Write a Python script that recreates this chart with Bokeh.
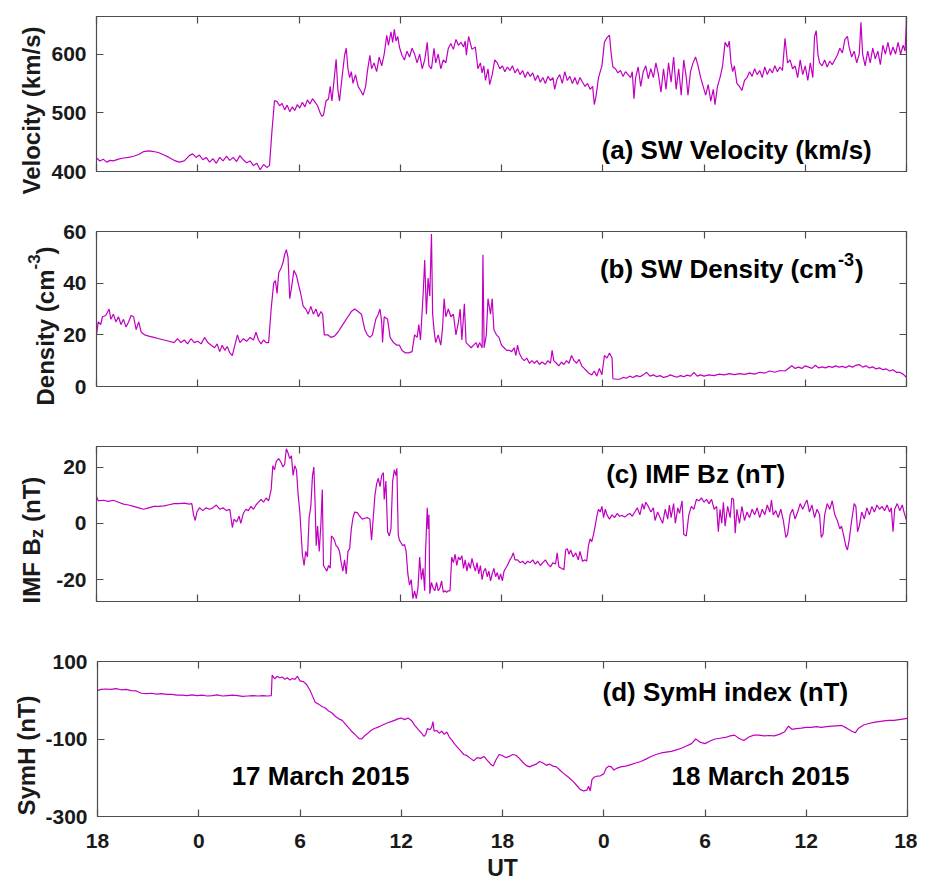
from bokeh.plotting import figure
from bokeh.layouts import column, row
from bokeh.models import Label, LinearAxis, FixedTicker, Range1d
from bokeh.embed import file_html
from bokeh.resources import INLINE

FONT = "Liberation Sans"
LINE_COLOR = "#C000C0"
AX_COLOR = "#4D4D4D"
TXT_COLOR = "#1A1A1A"

# x axis: hours since 16 March 2015 18 UT
x_ticks = [0, 6, 12, 18, 24, 30, 36, 42, 48]
x_tick_labels = ["18", "0", "6", "12", "18", "0", "6", "12", "18"]

# y ticks and their labels (plain hyphen, as in the original)
vel_ticks, vel_tick_labels = [400, 500, 600], ["400", "500", "600"]
den_ticks, den_tick_labels = [0, 20, 40, 60], ["0", "20", "40", "60"]
bz_ticks, bz_tick_labels = [-20, 0, 20], ["-20", "0", "20"]
sym_ticks, sym_tick_labels = [-300, -100, 100], ["-300", "-100", "100"]

# ---------------- (a) solar wind velocity (km/s) ----------------
vel_t = [0.0, 0.2, 0.4, 0.6, 0.8, 1.0, 1.3, 1.6, 1.9, 2.2, 2.5, 2.8, 3.1, 3.4, 3.7, 4.0, 4.3, 4.6, 4.9, 5.2,
         5.5, 5.7, 5.9, 6.1, 6.3, 6.5, 6.7, 6.9, 7.1, 7.3, 7.5, 7.7, 7.9, 8.1, 8.3, 8.5, 8.7, 8.9, 9.1, 9.3,
         9.5, 9.7, 9.9, 10.1, 10.25, 10.4, 10.55, 10.7, 10.85, 11.0, 11.15, 11.3, 11.45, 11.6, 11.75, 11.9,
         12.05, 12.2, 12.35, 12.5, 12.65, 12.8, 12.95, 13.1, 13.25, 13.35, 13.45, 13.6, 13.75, 13.85, 13.95,
         14.05, 14.2, 14.3, 14.4, 14.55, 14.7, 14.8, 14.9, 15.0, 15.1, 15.2, 15.35, 15.5, 15.65, 15.8, 15.95,
         16.05, 16.2, 16.3, 16.45, 16.6, 16.75, 16.9, 17.05, 17.2, 17.3, 17.45, 17.55, 17.65, 17.75, 17.85,
         17.95, 18.1, 18.25, 18.4, 18.55, 18.7, 18.85, 19.0, 19.15, 19.3, 19.45, 19.6, 19.7, 19.85, 20.0,
         20.1, 20.25, 20.4, 20.55, 20.7, 20.85, 21.0, 21.15, 21.3, 21.45, 21.6, 21.75, 21.85, 21.92, 22.05,
         22.25, 22.45, 22.6, 22.75, 22.85, 22.95, 23.05, 23.2, 23.3, 23.45, 23.6, 23.75, 23.9, 24.05, 24.2,
         24.35, 24.5, 24.65, 24.8, 24.95, 25.1, 25.25, 25.4, 25.55, 25.7, 25.85, 26.0, 26.15, 26.3, 26.45,
         26.6, 26.75, 26.9, 27.05, 27.15, 27.3, 27.45, 27.6, 27.75, 27.9, 28.05, 28.2, 28.35, 28.5, 28.65,
         28.8, 28.95, 29.1, 29.25, 29.4, 29.5, 29.6, 29.75, 29.85, 29.95, 30.1, 30.25, 30.4, 30.5, 30.6,
         30.75, 30.9, 31.05, 31.2, 31.35, 31.5, 31.65, 31.75, 31.85, 31.95, 32.1, 32.25, 32.4, 32.55, 32.7,
         32.85, 33.0, 33.15, 33.3, 33.45, 33.6, 33.75, 33.9, 34.05, 34.2, 34.35, 34.5, 34.65, 34.8, 34.95,
         35.05, 35.2, 35.35, 35.5, 35.65, 35.8, 35.95, 36.1, 36.25, 36.4, 36.55, 36.65, 36.8, 36.95, 37.1,
         37.25, 37.4, 37.5, 37.6, 37.7, 37.8, 37.95, 38.1, 38.25, 38.4, 38.55, 38.7, 38.85, 39.0, 39.15,
         39.3, 39.45, 39.6, 39.75, 39.9, 40.05, 40.2, 40.35, 40.5, 40.65, 40.8, 40.95, 41.1, 41.25, 41.4,
         41.55, 41.7, 41.85, 42.0, 42.15, 42.3, 42.45, 42.55, 42.65, 42.75, 42.85, 43.0, 43.15, 43.3, 43.45,
         43.6, 43.75, 43.9, 44.05, 44.2, 44.35, 44.5, 44.6, 44.75, 44.9, 45.05, 45.2, 45.3, 45.4, 45.55,
         45.7, 45.85, 46.0, 46.15, 46.3, 46.45, 46.6, 46.75, 46.9, 47.05, 47.2, 47.35, 47.5, 47.65, 47.8,
         47.92, 48.0]
vel = [423, 418, 421, 416, 419, 418, 421, 423, 424, 426, 429, 434, 435, 434, 432, 428, 424, 419, 416, 418,
       427, 430, 424, 428, 420, 424, 416, 422, 414, 424, 418, 426, 419, 424, 417, 427, 420, 415, 418, 410,
       414, 403, 412, 407, 410, 470, 521, 519, 512, 516, 505, 513, 502, 510, 504, 514,
       508, 518, 510, 522, 515, 524, 518, 512, 500, 494, 496, 520, 524, 545, 520,
       548, 591, 540, 520, 560, 598, 610, 575, 560, 570, 550, 565, 545, 538, 530, 545,
       570, 598, 575, 585, 570, 595, 580, 600, 632, 615, 638, 620, 642, 622, 630,
       612, 598, 590, 605, 595, 610, 600, 585, 600, 575, 590, 620, 580, 575, 610,
       585, 600, 575, 590, 585, 610, 618, 608, 625, 615, 620, 612, 622, 598, 630,
       608, 612, 575, 585, 568, 580, 555, 575, 548, 565, 590, 585, 575, 580, 570,
       578, 572, 580, 568, 575, 565, 572, 560, 570, 562, 568, 555, 564, 552, 560,
       550, 562, 555, 560, 540, 558, 565, 550, 570, 555, 562, 550, 560, 548, 560,
       552, 545, 550, 540, 545, 514, 528, 560, 570, 580, 620, 628, 632, 600, 578,
       575, 568, 572, 562, 570, 565, 560, 570, 524, 560, 578, 545, 570, 580, 558,
       575, 560, 585, 565, 535, 575, 540, 585, 552, 595, 540, 575, 530, 590, 560,
       530, 570, 585, 595, 580, 560, 545, 530, 548, 520, 540, 514, 545, 560, 580,
       620, 612, 622, 585, 570, 580, 550, 545, 538, 555, 560, 570, 562, 575, 565,
       572, 560, 578, 565, 575, 568, 580, 570, 578, 572, 627, 585, 590, 575, 580,
       560, 590, 565, 580, 555, 585, 560, 630, 640, 600, 585, 580, 590, 578, 588,
       582, 590, 598, 610, 602, 625, 630, 612, 595, 605, 585, 600, 654, 600, 580,
       605, 585, 610, 592, 605, 582, 615, 600, 620, 598, 612, 600, 620, 600, 615,
       605, 664]

# ---------------- (b) solar wind density (cm^-3) ----------------
den_t = [0.0, 0.1, 0.25, 0.35, 0.55, 0.75, 0.85, 1.0, 1.15, 1.3, 1.45, 1.6, 1.75, 1.9, 2.05, 2.2, 2.35, 2.5,
         2.65, 2.85, 3.1, 3.4, 3.7, 4.0, 4.3, 4.6, 4.8, 5.0, 5.2, 5.4, 5.6, 5.8, 6.0, 6.2, 6.4, 6.6, 6.8, 7.0,
         7.15, 7.3, 7.45, 7.6, 7.75, 7.9, 8.05, 8.2, 8.35, 8.5, 8.7, 8.9, 9.1, 9.3, 9.45, 9.6, 9.75, 9.9,
         10.05, 10.2, 10.35, 10.5, 10.6, 10.7, 10.8, 10.95, 11.05, 11.15, 11.25, 11.35, 11.45, 11.55, 11.7,
         11.85, 11.95, 12.1, 12.25, 12.4, 12.55, 12.7, 12.85, 13.0, 13.15, 13.3, 13.4, 13.5, 13.7, 13.9,
         14.1, 14.3, 14.5, 14.7, 14.9, 15.1, 15.3, 15.5, 15.7, 15.8, 15.9, 16.05, 16.2, 16.35, 16.55, 16.7,
         16.8, 16.9, 16.95, 17.05, 17.25, 17.4, 17.6, 17.8, 17.95, 18.1, 18.3, 18.5, 18.7, 18.85, 19.0, 19.1,
         19.2, 19.35, 19.45, 19.55, 19.65, 19.75, 19.85, 19.92, 20.0, 20.1, 20.25, 20.4, 20.5, 20.6, 20.7,
         20.85, 21.0, 21.15, 21.3, 21.45, 21.55, 21.65, 21.8, 21.9, 22.05, 22.2, 22.35, 22.5, 22.6, 22.7,
         22.85, 22.9, 22.97, 23.1, 23.2, 23.35, 23.45, 23.55, 23.7, 23.85, 24.0, 24.15, 24.3, 24.45, 24.6,
         24.75, 24.85, 24.95, 25.05, 25.2, 25.35, 25.5, 25.65, 25.8, 25.95, 26.1, 26.25, 26.4, 26.6, 26.75,
         26.9, 27.0, 27.1, 27.25, 27.4, 27.55, 27.7, 27.85, 28.0, 28.15, 28.3, 28.45, 28.6, 28.75, 28.9,
         29.05, 29.2, 29.35, 29.5, 29.65, 29.8, 29.95, 30.1, 30.25, 30.4, 30.55, 30.6, 30.8, 31.0, 31.2,
         31.4, 31.6, 31.8, 32.0, 32.2, 32.4, 32.6, 32.8, 33.0, 33.2, 33.4, 33.6, 33.8, 34.0, 34.2, 34.4,
         34.6, 34.8, 35.0, 35.2, 35.4, 35.6, 35.8, 36.0, 36.3, 36.6, 36.9, 37.2, 37.5, 37.8, 38.1, 38.4,
         38.7, 39.0, 39.3, 39.6, 39.9, 40.2, 40.5, 40.8, 41.0, 41.2, 41.4, 41.6, 41.8, 42.0, 42.2, 42.4,
         42.6, 42.8, 43.0, 43.2, 43.4, 43.6, 43.8, 44.0, 44.2, 44.4, 44.6, 44.8, 45.0, 45.2, 45.4, 45.6,
         45.8, 46.0, 46.2, 46.4, 46.6, 46.8, 47.0, 47.2, 47.4, 47.6, 47.8, 48.0]
den = [20, 25, 24, 27, 27.5, 30, 26, 28, 25, 27, 24, 26, 23, 25, 27.5, 27, 22, 25,
       21, 20, 19.5, 19, 18.5, 18, 17.5, 17, 18.5, 17, 18, 16.5, 18.5, 17, 17.5, 16.5, 19, 17, 16, 15,
       16.5, 13.5, 16, 14, 15.5, 13, 12, 16, 20, 17, 18.5, 17.5, 19, 18, 21, 18, 16.5, 18,
       17, 17, 30, 40, 41, 36, 44, 46, 48, 51, 53, 50, 34, 38, 45,
       43, 40, 36, 31, 30, 28, 31, 28, 30, 27, 29, 28, 20, 20, 19,
       19.5, 21, 23, 25, 27, 29, 30, 29, 28, 25, 22, 20, 19, 20, 26, 28,
       30, 25, 17, 27, 26, 19, 17, 16, 16, 14, 13, 13, 13.5, 20, 19, 24,
       18, 35, 49, 28, 42, 35, 59, 28, 22, 17, 20, 16, 22, 34, 27,
       30, 27, 28, 20, 25, 30, 18, 32, 17, 16, 15, 16, 17, 15, 17,
       15, 51, 15, 20, 34, 28, 34, 22, 20, 19, 16, 15, 14, 14, 13.5,
       15, 12, 16, 13, 11, 10, 11, 9, 10, 9, 10, 8.5, 9.5, 8.5, 10,
       9, 14, 10, 9, 8, 9.5, 8.5, 10, 9, 12, 10, 9, 10.5, 8, 7,
       6, 5, 4.5, 6, 4, 7, 4.5, 12, 11, 13, 11, 3, 2.8, 2.8, 3.5,
       3.2, 4, 3.5, 4.2, 3.8, 4.5, 5.5, 4, 4.5, 3.8, 4.2, 3.5, 3.8, 4.5, 4, 3.6,
       4.2, 3.8, 4.4, 4, 5.5, 4, 4.5, 4, 4.5, 4.2, 4.8, 4.5, 5, 4.6, 5, 4.7,
       5.2, 4.8, 5.5, 5.2, 6, 5.5, 6.2, 6, 7, 8, 7, 7.5, 7, 8, 7.5, 7,
       8.2, 7.2, 7.6, 7.2, 7.8, 7.4, 8, 7.5, 7.8, 7.3, 8, 7.5, 8.2, 8.5, 7.5, 8,
       7.2, 7.6, 6.8, 7.2, 6.5, 6.8, 6, 6.5, 5.5, 5.5, 4.8, 3.5]

# ---------------- (c) IMF Bz (nT) ----------------
bz_t = [0.0, 0.1, 0.4, 0.7, 1.0, 1.3, 1.6, 1.9, 2.2, 2.5, 2.8, 3.1, 3.4, 3.7, 4.0, 4.3, 4.6, 4.9, 5.2, 5.5,
        5.65, 5.75, 5.85, 5.95, 6.1, 6.3, 6.5, 6.7, 6.9, 7.1, 7.3, 7.5, 7.7, 7.9, 8.05, 8.15, 8.3, 8.45,
        8.55, 8.7, 8.85, 9.0, 9.15, 9.3, 9.45, 9.6, 9.75, 9.9, 10.05, 10.2, 10.35, 10.45, 10.55, 10.65,
        10.8, 10.95, 11.05, 11.15, 11.25, 11.35, 11.45, 11.55, 11.65, 11.75, 11.85, 11.95, 12.05, 12.12,
        12.2, 12.3, 12.4, 12.5, 12.6, 12.7, 12.8, 12.88, 12.95, 13.02, 13.1, 13.2, 13.3, 13.38, 13.45,
        13.55, 13.65, 13.75, 13.85, 13.92, 14.0, 14.1, 14.2, 14.3, 14.4, 14.5, 14.6, 14.7, 14.8, 14.9,
        15.0, 15.1, 15.2, 15.3, 15.45, 15.6, 15.75, 15.9, 16.05, 16.2, 16.3, 16.4, 16.5, 16.6, 16.7, 16.8,
        16.9, 17.0, 17.05, 17.15, 17.25, 17.35, 17.45, 17.55, 17.65, 17.75, 17.8, 17.88, 17.95, 18.05,
        18.15, 18.25, 18.35, 18.45, 18.55, 18.65, 18.75, 18.85, 18.95, 19.05, 19.15, 19.25, 19.35, 19.45,
        19.5, 19.6, 19.65, 19.7, 19.75, 19.85, 19.95, 20.05, 20.15, 20.25, 20.35, 20.45, 20.55, 20.65,
        20.75, 20.85, 20.95, 21.05, 21.15, 21.25, 21.35, 21.45, 21.55, 21.65, 21.75, 21.85, 21.95, 22.05,
        22.15, 22.25, 22.35, 22.45, 22.55, 22.65, 22.75, 22.85, 22.95, 23.05, 23.15, 23.25, 23.35, 23.45,
        23.55, 23.65, 23.75, 23.85, 23.95, 24.05, 24.15, 24.25, 24.35, 24.5, 24.6, 24.7, 24.8, 24.95,
        25.1, 25.25, 25.4, 25.55, 25.7, 25.85, 26.0, 26.15, 26.3, 26.45, 26.6, 26.75, 26.9, 27.05, 27.2,
        27.3, 27.4, 27.55, 27.7, 27.8, 27.9, 28.0, 28.1, 28.25, 28.4, 28.55, 28.65, 28.8, 28.95, 29.05,
        29.15, 29.25, 29.35, 29.45, 29.55, 29.65, 29.75, 29.85, 29.95, 30.05, 30.15, 30.25, 30.4, 30.55,
        30.7, 30.85, 31.0, 31.15, 31.3, 31.45, 31.6, 31.75, 31.9, 32.05, 32.2, 32.35, 32.45, 32.55, 32.7,
        32.85, 33.0, 33.1, 33.25, 33.4, 33.55, 33.7, 33.85, 33.95, 34.05, 34.2, 34.3, 34.45, 34.55, 34.7,
        34.8, 34.95, 35.1, 35.25, 35.4, 35.55, 35.7, 35.85, 36.0, 36.15, 36.3, 36.45, 36.6, 36.75, 36.85,
        36.95, 37.05, 37.15, 37.25, 37.4, 37.55, 37.65, 37.75, 37.85, 37.95, 38.1, 38.25, 38.4, 38.55,
        38.7, 38.85, 39.0, 39.15, 39.3, 39.45, 39.6, 39.75, 39.9, 40.0, 40.1, 40.25, 40.4, 40.55, 40.7,
        40.85, 40.95, 41.1, 41.25, 41.4, 41.55, 41.7, 41.85, 42.0, 42.1, 42.25, 42.4, 42.55, 42.7, 42.85,
        42.95, 43.05, 43.15, 43.3, 43.45, 43.6, 43.75, 43.9, 44.05, 44.15, 44.3, 44.4, 44.5, 44.6, 44.75,
        44.9, 45.0, 45.1, 45.2, 45.35, 45.5, 45.65, 45.8, 45.95, 46.1, 46.25, 46.4, 46.55, 46.7, 46.85,
        47.0, 47.1, 47.2, 47.3, 47.45, 47.6, 47.75, 47.85, 47.95, 48.0]
bz = [9.5, 8, 8.2, 7.8, 8.2, 7.5, 6.8, 6.5, 6, 5.5, 5, 5.5, 6, 6, 6.2, 6.6, 7, 7, 7.2, 6.8,
      7, 3, 1, 4, 5.5, 4.5, 5.5, 5, 5.5, 6.5, 5, 5.5, 4.5, 5, -1.5, 1.5, 0.5, 2.5,
      0, 3.5, 5, 4.5, 6, 5, 6.5, 7.5, 8.5, 7.5, 9, 8, 12, 20.5, 19, 22,
      23, 21.5, 20, 21, 26.5, 25, 23, 24, 17, 20.5, 19, 10, 4, -3,
      -11, -15, -10, -12, 2, 6, 17, 20, 8, -8, -1, -10, 0, 12, -15,
      -16, -17, -15, -16, -4.5, -5, -6, -8, -8.5, -10, -14, -17, -13, -18, -10,
      -9, -2, 2, 4, 3.8, 2.5, 1.5, 1.8, 2, 1.5, -6, 2, 10, 14, 16, 13,
      17, 18, 8.5, 15, -3, -4.5, -2, 15, 19, 17, 19.5, -4, -6, -7,
      -8, -7.5, -10, -18, -22, -20, -26.8, -24, -26.8, -23, -12, -20, -16, -24,
      -10, 5.5, -2, 3, -25, -21, -23, -24, -21, -24, -23, -20.5, -24.5, -24,
      -24.5, -24, -24, -12, -14, -11, -15, -12, -13, -11.5, -16, -13, -17, -14,
      -16, -12.5, -15, -17, -14, -18, -15, -20, -17, -16, -19, -17, -20.5, -18,
      -16, -19, -17.5, -20, -18, -20.5, -17, -16, -15, -13, -12, -10.5, -13, -13,
      -14, -13.5, -14.5, -13.5, -14, -13, -14.5, -13.5, -15, -14, -13, -14.5, -15.5, -14, -14.5,
      -10.5, -15.5, -16, -16.5, -9.5, -9, -11, -9.5, -12, -10.5, -13, -10, -13.5, -13, -13.5,
      -8, -5.5, -6.5, -4, -1, 2.5, 5, 4, 6, 2, 5, 3, 1.5, 3,
      2, 3.5, 2.5, 2.8, 2.2, 3, 3.5, 2.5, 4, 5.5, 3, 7, 5, 7.5, 6,
      4, 5.5, 1, 4, 2, 0, 5, 1.5, 6.5, 2, 7, 0, 5.5, 3.5, 8,
      -4, -4.5, 3, 6, 5, 8.5, 8, 9, 7.5, 8.5, 7, 8.5, 5, 6, -3,
      5, 0, 7.5, -1, 6, 2, 9, 8.5, -3.5, 5, 0, 6, 1, 4,
      2, 5, 3, 5.5, 2, 5, 3, 6.5, 4, 8.3, 3, 4.5, 2, 5, 1,
      -5, -4, 3, 5, 1.5, 4, 7, 5, 7, 8.3, 4, 6.5, 2, 5, 3,
      -5, -4, 3, 7, 5, 8, 3, 1, -2, -1, -5, -8, -9.5, -6, 1,
      7, 6, -3, -1, 4, 1.5, 5.5, 3, 6, 4, 6.5, 5, 6, 4.5, 6.5,
      4, 5.5, -3, 5, 7, 4.5, 6.5, 4, 2, 1]

# ---------------- (d) SymH index (nT) ----------------
sym_t = [0.0, 0.2, 0.5, 0.8, 1.1, 1.4, 1.7, 2.0, 2.3, 2.6, 2.9, 3.2, 3.5, 3.8, 4.1, 4.4, 4.7, 5.0, 5.3, 5.6,
         5.9, 6.2, 6.5, 6.8, 7.1, 7.4, 7.7, 8.0, 8.3, 8.6, 8.9, 9.2, 9.5, 9.8, 10.1, 10.3, 10.35, 10.5, 10.65,
         10.8, 10.95, 11.1, 11.25, 11.4, 11.55, 11.7, 11.85, 12.0, 12.2, 12.4, 12.6, 12.75, 12.9, 13.1, 13.3,
         13.5, 13.7, 13.9, 14.1, 14.3, 14.5, 14.7, 14.9, 15.1, 15.3, 15.5, 15.65, 15.8, 16.0, 16.2, 16.4,
         16.6, 16.8, 17.0, 17.2, 17.4, 17.6, 17.8, 18.0, 18.2, 18.4, 18.6, 18.8, 19.0, 19.2, 19.35, 19.45,
         19.55, 19.7, 19.8, 19.88, 19.95, 20.1, 20.25, 20.4, 20.55, 20.7, 20.85, 21.0, 21.2, 21.4, 21.55,
         21.7, 21.9, 22.1, 22.3, 22.5, 22.7, 22.9, 23.1, 23.3, 23.45, 23.6, 23.8, 24.0, 24.2, 24.4, 24.6,
         24.8, 25.0, 25.2, 25.4, 25.6, 25.8, 26.0, 26.2, 26.4, 26.6, 26.8, 27.0, 27.2, 27.4, 27.6, 27.8,
         28.0, 28.2, 28.4, 28.6, 28.8, 29.0, 29.1, 29.2, 29.3, 29.45, 29.6, 29.8, 30.0, 30.15, 30.3, 30.45,
         30.6, 30.8, 31.0, 31.3, 31.6, 31.9, 32.2, 32.5, 32.8, 33.1, 33.4, 33.7, 34.0, 34.3, 34.6, 34.9,
         35.2, 35.45, 35.7, 36.0, 36.3, 36.6, 36.9, 37.2, 37.5, 37.75, 38.0, 38.3, 38.6, 38.9, 39.2, 39.5,
         39.8, 40.1, 40.4, 40.7, 40.95, 41.15, 41.4, 41.7, 42.0, 42.3, 42.6, 42.9, 43.2, 43.5, 43.8, 44.1,
         44.4, 44.7, 44.9, 45.1, 45.4, 45.7, 46.0, 46.3, 46.6, 46.9, 47.2, 47.5, 47.8, 48.0]
sym = [25, 28, 29, 28, 30, 27, 28, 25, 24, 18, 17, 18, 16, 17, 15, 15, 13, 13, 12, 14,
       12, 13, 11, 12, 14, 11, 12, 13, 12, 10, 11, 12, 11, 12, 11, 12, 65, 55, 62,
       58, 60, 54, 58, 52, 56, 54, 62, 50, 48, 40, 25, 10, -5, -10, -16,
       -20, -28, -33, -42, -48, -52, -62, -72, -82, -90, -99, -100, -93, -86, -78, -73,
       -70, -66, -62, -58, -55, -52, -48, -46, -50, -46, -52, -65, -75, -85, -93, -88,
       -73, -76, -70, -55, -80, -78, -85, -80, -88, -82, -95, -103, -115, -125, -132,
       -140, -143, -150, -156, -148, -150, -145, -155, -165, -170, -155, -140, -143, -148, -145, -140,
       -142, -150, -160, -168, -172, -168, -165, -158, -162, -168, -165, -170, -172, -180, -188, -195,
       -202, -210, -220, -230, -234, -232, -222, -234, -205, -198, -196, -195, -190, -175, -170, -172,
       -180, -175, -172, -170, -166, -162, -158, -152, -145, -140, -136, -134, -132, -128, -124, -118,
       -112, -100, -108, -112, -105, -100, -98, -96, -92, -90, -98, -104, -95, -90, -90, -92,
       -91, -92, -88, -82, -67, -75, -73, -72, -70, -70, -68, -70, -68, -67, -66, -65,
       -72, -80, -84, -72, -64, -60, -57, -55, -53, -52, -52, -50, -48, -47]

FW, FH = 810, 155
TOP_B, BOT_B = 16, 44
FIG_H = TOP_B + FH + BOT_B          # 215
LAST_BOT = 40
LAST_H = TOP_B + FH + LAST_BOT      # 211


def style_axis(ax, ticks, labels=None, show=True, standoff=10):
    ax.ticker = FixedTicker(ticks=ticks)
    if show and labels is not None:
        ax.major_label_overrides = {t: l for t, l in zip(ticks, labels)}
    if not show:
        ax.major_label_overrides = {t: "" for t in ticks}
    ax.major_tick_in = 7
    ax.major_tick_out = 0
    ax.minor_tick_in = 0
    ax.minor_tick_out = 0
    ax.axis_line_color = AX_COLOR
    ax.axis_line_width = 1.2
    ax.major_tick_line_color = AX_COLOR
    ax.major_tick_line_width = 1.2
    ax.major_label_text_font = FONT
    ax.major_label_text_font_style = "bold"
    ax.major_label_text_color = TXT_COLOR
    ax.major_label_text_font_size = "21px" if show else "2px"
    ax.major_label_standoff = standoff if show else 0


def make_panel(t, y, y_lo, y_hi, y_ticks, y_labels, left_border, last=False):
    p = figure(frame_width=FW, frame_height=FH,
               x_range=Range1d(0, 48), y_range=Range1d(y_lo, y_hi),
               output_backend="svg", toolbar_location=None,
               min_border_left=left_border, min_border_right=10,
               min_border_top=TOP_B,
               min_border_bottom=LAST_BOT if last else BOT_B,
               background_fill_color="white", border_fill_color="white",
               outline_line_color=AX_COLOR)
    p.xgrid.visible = False
    p.ygrid.visible = False
    p.line(t, y, line_color=LINE_COLOR, line_width=1.2)
    style_axis(p.xaxis[0], x_ticks, x_tick_labels, show=last, standoff=17)
    style_axis(p.yaxis[0], y_ticks, y_labels, show=True, standoff=10)
    top = LinearAxis()
    style_axis(top, x_ticks, show=False)
    p.add_layout(top, "above")
    right = LinearAxis()
    style_axis(right, y_ticks, show=False)
    p.add_layout(right, "right")
    return p


def text_fig(width, height):
    # blank canvas for axis titles; data units equal pixels, y measured from the top
    f = figure(frame_width=width, frame_height=height,
               x_range=Range1d(0, width), y_range=Range1d(height, 0),
               x_axis_type=None, y_axis_type=None,
               output_backend="svg", toolbar_location=None, min_border=0,
               outline_line_color=None, background_fill_color="white",
               border_fill_color="white")
    f.xgrid.visible = False
    f.ygrid.visible = False
    return f


def label(p, text, x, y, size="26px", angle=0, align="left", x_offset=0, color="#000000"):
    p.add_layout(Label(x=x, y=y, text=text, angle=angle, angle_units="deg",
                       text_align=align, text_baseline="alphabetic",
                       text_font=FONT, text_font_style="bold",
                       text_font_size=size, text_color=color, x_offset=x_offset))


LW = {"a": 48, "b": 60, "c": 50, "d": 42}

pa = make_panel(vel_t, vel, 400, 664, vel_ticks, vel_tick_labels, 96 - LW["a"])
pb = make_panel(den_t, den, 0, 60, den_ticks, den_tick_labels, 96 - LW["b"])
pc = make_panel(bz_t, bz, -27.8, 27.3, bz_ticks, bz_tick_labels, 96 - LW["c"])
pd = make_panel(sym_t, sym, -300, 100, sym_ticks, sym_tick_labels, 96 - LW["d"], last=True)

# in-panel titles
label(pa, "(a) SW Velocity (km/s)", 29.93, 436.6)
label(pb, "(b) SW Density (cm", 29.83, 45.5)
label(pb, "-3", 29.83, 49.2, size="18px", x_offset=238)
label(pb, ")", 29.83, 45.5, x_offset=255)
label(pc, "(c) IMF Bz (nT)", 30.2, 17.6)
label(pd, "(d) SymH index (nT)", 29.93, 21.3)
label(pd, "17 March 2015", 7.95, -196)
label(pd, "18 March 2015", 34.02, -196)

# y axis titles, in separate blank canvases to the left of each panel
ta = text_fig(LW["a"], FIG_H)
label(ta, "Velocity (km/s)", 31, 94, size="24px", angle=90, align="center", color=TXT_COLOR)

tb = text_fig(LW["b"], FIG_H)
label(tb, "Density (cm", 45, 174, size="24px", angle=90, color=TXT_COLOR)
label(tb, "-3", 33, 38, size="17px", angle=90, color=TXT_COLOR)
label(tb, ")", 45, 22.9, size="24px", angle=90, color=TXT_COLOR)

tc = text_fig(LW["c"], FIG_H)
label(tc, "IMF B", 31, 157, size="24px", angle=90, color=TXT_COLOR)
label(tc, "z", 36, 91.7, size="19px", angle=90, color=TXT_COLOR)
label(tc, "(nT)", 31, 75.5, size="24px", angle=90, color=TXT_COLOR)

td = text_fig(LW["d"], LAST_H)
label(td, "SymH (nT)", 25.5, 94, size="24px", angle=90, align="center", color=TXT_COLOR)

# x axis title
tu = text_fig(916, 24)
label(tu, "UT", 502, 11, size="23px", align="center", color=TXT_COLOR)

layout = column(row(ta, pa), row(tb, pb), row(tc, pc), row(td, pd), tu)
open("out.html", "w").write(file_html(layout, INLINE))
